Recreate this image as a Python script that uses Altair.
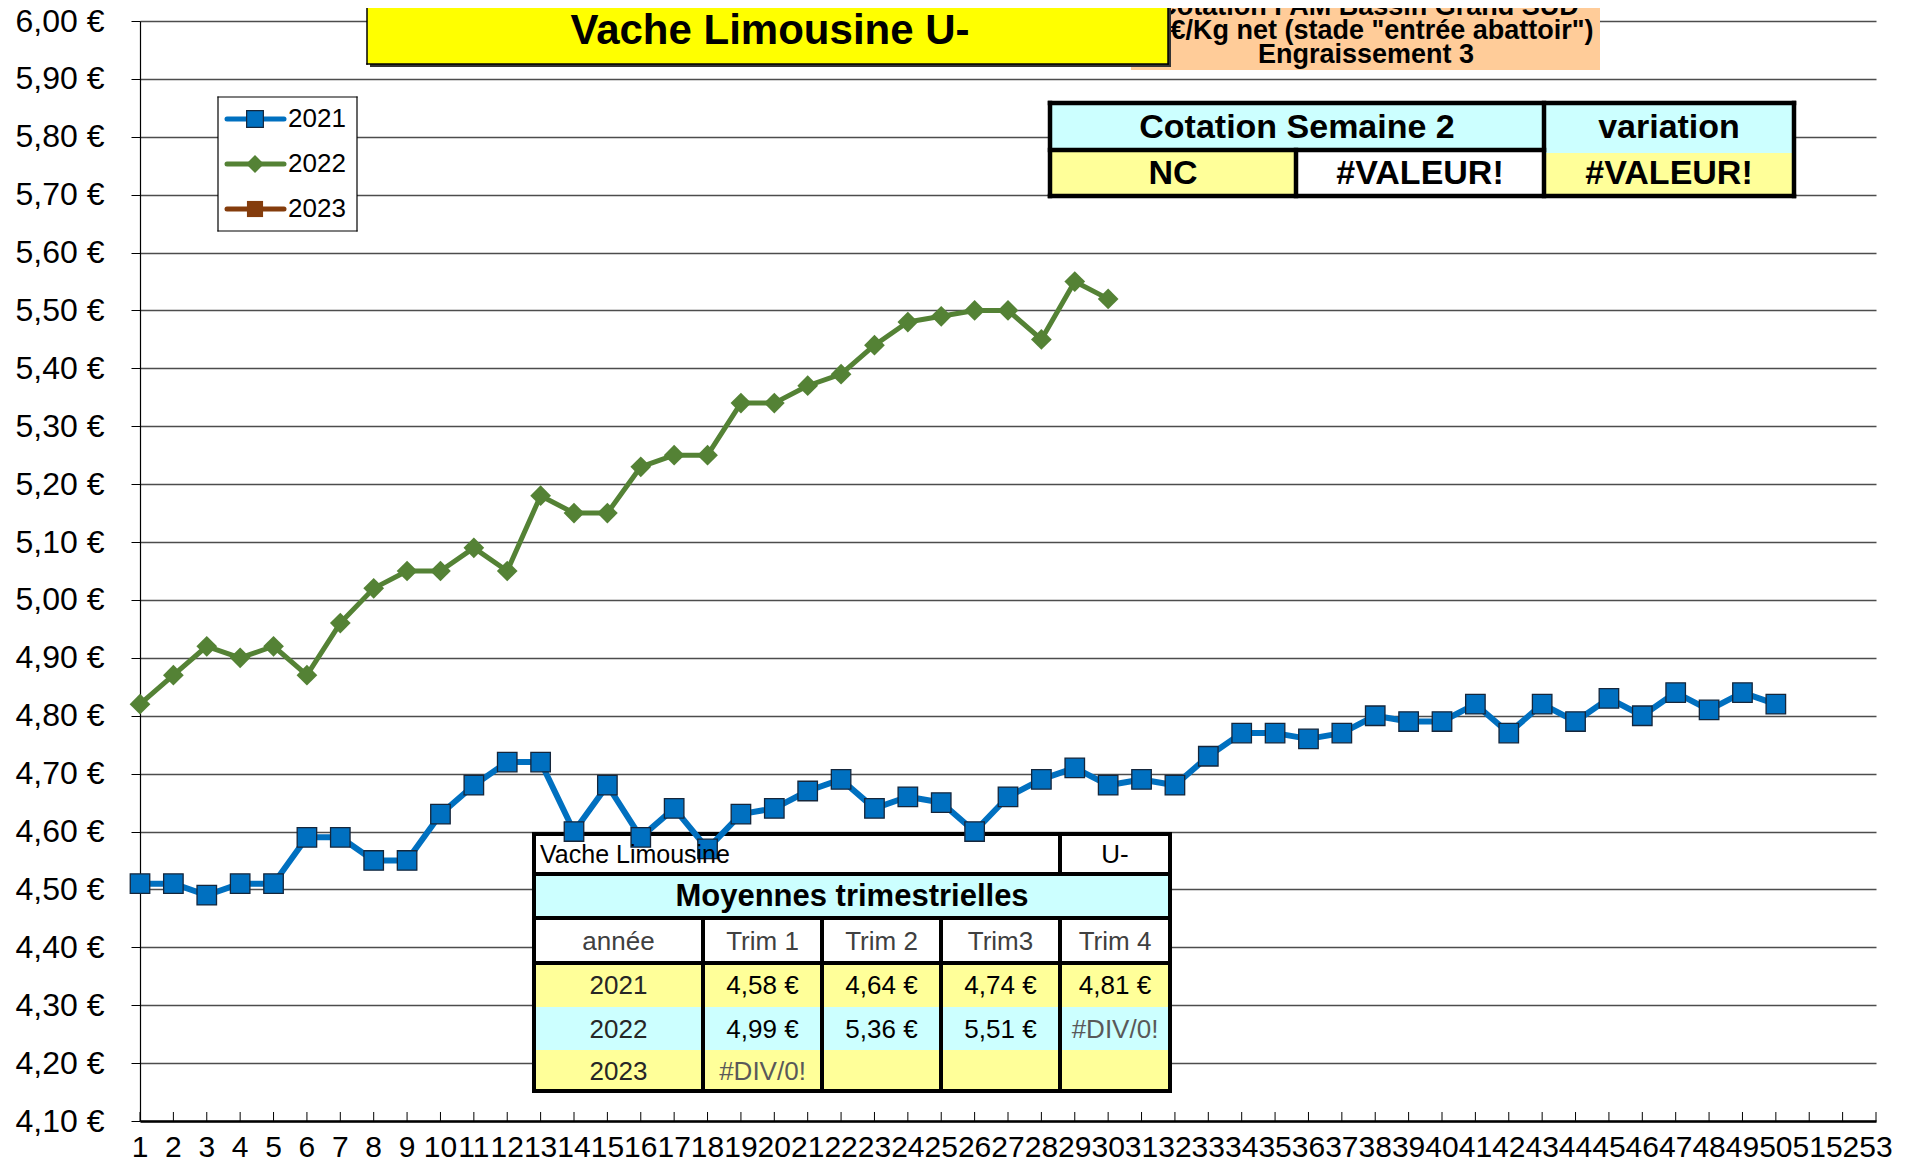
import altair as alt
import pandas as pd

# ---------------- data ----------------
WEEKS = list(range(1, 54))
WEEKS_2021 = list(range(1, 51))
PRICE_2021 = [4.51, 4.51, 4.49, 4.51, 4.51, 4.59, 4.59, 4.55, 4.55, 4.63,
              4.68, 4.72, 4.72, 4.60, 4.68, 4.59, 4.64, 4.57, 4.63, 4.64,
              4.67, 4.69, 4.64, 4.66, 4.65, 4.60, 4.66, 4.69, 4.71, 4.68,
              4.69, 4.68, 4.73, 4.77, 4.77, 4.76, 4.77, 4.80, 4.79, 4.79,
              4.82, 4.77, 4.82, 4.79, 4.83, 4.80, 4.84, 4.81, 4.84, 4.82]
WEEKS_2022 = list(range(1, 31))
PRICE_2022 = [4.82, 4.87, 4.92, 4.90, 4.92, 4.87, 4.96, 5.02, 5.05, 5.05,
              5.09, 5.05, 5.18, 5.15, 5.15, 5.23, 5.25, 5.25, 5.34, 5.34,
              5.37, 5.39, 5.44, 5.48, 5.49, 5.50, 5.50, 5.45, 5.55, 5.52]
YEARS = ["2021", "2022", "2023"]
COLORS = ["#0070C0", "#548235", "#843C0C"]
Y_TICKS = [4.10, 4.20, 4.30, 4.40, 4.50, 4.60, 4.70, 4.80, 4.90, 5.00,
           5.10, 5.20, 5.30, 5.40, 5.50, 5.60, 5.70, 5.80, 5.90, 6.00]

TITLE = "Vache Limousine U-"
SOURCE_LINES = ["Cotation FAM Bassin Grand SUD",
                "€/Kg net (stade \"entrée abattoir\")",
                "Engraissement 3"]
COT_HEADER = ["Cotation Semaine 2", "variation"]
COT_VALUES = ["NC", "#VALEUR!", "#VALEUR!"]
TAB_TITLE = ["Vache Limousine", "U-"]
TAB_HEADER = "Moyennes trimestrielles"
TAB_COLS = ["année", "Trim 1", "Trim 2", "Trim3", "Trim 4"]
TAB_ROWS = [["2021", "4,58 €", "4,64 €", "4,74 €", "4,81 €"],
            ["2022", "4,99 €", "5,36 €", "5,51 €", "#DIV/0!"],
            ["2023", "#DIV/0!", "", "", ""]]

# ---------------- layout ----------------
FONT = "Liberation Sans"
OX, OY = 140, 21          # page position of the plot origin
W, H = 1736, 1100
YELLOW = "#FFFF99"
CYAN = "#CCFFFF"


def px(x):
    return x - OX


def py(y):
    return y - OY


def rects(items):
    df = pd.DataFrame([dict(x=px(a), y=py(b), x2=px(c), y2=py(d), f=f)
                       for a, b, c, d, f in items])
    return alt.Chart(df).mark_rect(strokeWidth=0).encode(
        x=alt.X("x:Q", scale=None, axis=None), x2="x2:Q",
        y=alt.Y("y:Q", scale=None, axis=None), y2="y2:Q",
        fill=alt.Fill("f:N", scale=None, legend=None))


def rules(items, cap="square"):
    df = pd.DataFrame([dict(x=px(a), y=py(b), x2=px(c), y2=py(d), w=w, c=col)
                       for a, b, c, d, w, col in items])
    return alt.Chart(df).mark_rule(strokeCap=cap).encode(
        x=alt.X("x:Q", scale=None, axis=None), x2="x2:Q",
        y=alt.Y("y:Q", scale=None, axis=None), y2="y2:Q",
        strokeWidth=alt.StrokeWidth("w:Q", scale=None, legend=None),
        color=alt.Color("c:N", scale=None, legend=None))


def texts(items, weight="normal", align="center", baseline="middle"):
    df = pd.DataFrame([dict(x=px(a), y=py(b), t=t, s=s, c=c)
                       for a, b, t, s, c in items])
    return alt.Chart(df).mark_text(font=FONT, fontWeight=weight, align=align,
                                   baseline=baseline).encode(
        x=alt.X("x:Q", scale=None, axis=None),
        y=alt.Y("y:Q", scale=None, axis=None),
        text="t:N",
        size=alt.Size("s:Q", scale=None, legend=None),
        color=alt.Color("c:N", scale=None, legend=None))


def outline(x0, y0, x1, y1, w, col="black"):
    return [(x0, y0, x1, y0, w, col), (x0, y1, x1, y1, w, col),
            (x0, y0, x0, y1, w, col), (x1, y0, x1, y1, w, col)]


# cotation table geometry
CX = [1050, 1296, 1544, 1794]
CY = [103, 150, 196]
# bottom table geometry
TX = [534, 703, 822, 941, 1060, 1170]
TY = [834, 874, 918, 963, 1007, 1050, 1091]
# legend geometry
LG = (218, 97, 357, 231)
LG_ROWS = [119, 164, 209]

# ---------------- fills ----------------
fill_items = [
    (LG[0], LG[1], LG[2], LG[3], "white"),
    (CX[0], CY[0], CX[2], CY[1], CYAN),
    (CX[2], CY[0], CX[3], CY[1] + 3, CYAN),
    (CX[2], CY[1] + 3, CX[3], CY[2], YELLOW),
    (CX[0], CY[1], CX[1], CY[2], YELLOW),
    (CX[1], CY[1], CX[2], CY[2], "white"),
    (TX[0], TY[0], TX[5], TY[1], "white"),
    (TX[0], TY[1], TX[5], TY[2], CYAN),
    (TX[0], TY[2], TX[5], TY[3], "white"),
    (TX[0], TY[3], TX[5], TY[4], YELLOW),
    (TX[0], TY[4], TX[5], TY[5], CYAN),
    (TX[0], TY[5], TX[5], TY[6], YELLOW),
    (1131, 0, 1600, 70, "#FFCC99"),
]
fills = rects(fill_items)

SOURCE_X = [1368, 1382, 1366]
source_txt = texts([(SOURCE_X[i], 15 + 24 * i, s, 27, "black")
                    for i, s in enumerate(SOURCE_LINES)],
                   weight="bold", baseline="alphabetic")

title_box = rects([(370, 0, 1171, 67, "#333333"), (367, 0, 1168, 64, "#FFFF00")])
title_line = rules([(367, 64, 1168, 64, 1.5, "black"), (367, 0, 367, 64, 1.5, "black"),
                    (1168, 0, 1168, 64, 1.5, "black")])
title_txt = texts([(770, 31, TITLE, 42, "black")], weight="bold")

# ---------------- borders ----------------
border_items = []
border_items += outline(CX[0], CY[0], CX[3], CY[2], 4.5)
border_items += [(CX[0], CY[1], CX[2], CY[1], 4.5, "black"),
                 (CX[2], CY[0], CX[2], CY[2], 4.5, "black"),
                 (CX[1], CY[1], CX[1], CY[2], 4.5, "black")]
border_items += outline(TX[0], TY[0], TX[5], TY[6], 4)
border_items += [(TX[0], TY[1], TX[5], TY[1], 4, "black"),
                 (TX[0], TY[2], TX[5], TY[2], 4, "black"),
                 (TX[0], TY[3], TX[5], TY[3], 4, "black"),
                 (TX[4], TY[0], TX[4], TY[1], 4, "black")]
for cx in TX[1:5]:
    border_items.append((cx, TY[2], cx, TY[6], 4, "black"))
border_items += outline(LG[0], LG[1], LG[2], LG[3], 1.2)
borders = rules(border_items)

# ---------------- axes + series ----------------
x_enc = alt.X("week:Q", scale=alt.Scale(domain=[1, 53], nice=False, zero=False),
              axis=alt.Axis(values=WEEKS, title=None, grid=False, labels=False,
                            ticks=False, tickSize=0,
                            domainColor="black", domainWidth=2.5))
y_enc = alt.Y("price:Q", scale=alt.Scale(domain=[4.1, 6.0], nice=False, zero=False),
              axis=alt.Axis(values=Y_TICKS,
                            labelExpr="replace(format(datum.value, '.2f'), '.', ',') + ' €'",
                            title=None, grid=True, gridColor="#4d4d4d", gridWidth=1.5,
                            tickColor="black", tickSize=9, tickWidth=1,
                            labelPadding=27, labelFontSize=32, labelColor="black",
                            labelFont=FONT, domainColor="black", domainWidth=1.2,
                            labelOverlap=False))

df21 = pd.DataFrame({"week": WEEKS_2021, "price": PRICE_2021})
df22 = pd.DataFrame({"week": WEEKS_2022, "price": PRICE_2022})

axes_carrier = alt.Chart(df21).mark_line(strokeOpacity=0).encode(x=x_enc, y=y_enc)

line21 = alt.Chart(df21).mark_line(color=COLORS[0], strokeWidth=6,
                                   strokeJoin="round").encode(x="week:Q", y="price:Q")
pts21 = alt.Chart(df21).mark_point(shape="square", filled=True, size=380,
                                   fill=COLORS[0], stroke="#15263b",
                                   strokeWidth=1.3, opacity=1).encode(
    x="week:Q", y="price:Q")
line22 = alt.Chart(df22).mark_line(color=COLORS[1], strokeWidth=5,
                                   strokeJoin="round").encode(x="week:Q", y="price:Q")
pts22 = alt.Chart(df22).mark_point(shape="diamond", filled=True, size=430,
                                   color=COLORS[1], opacity=1).encode(
    x="week:Q", y="price:Q")

df_weeks = pd.DataFrame({"week": WEEKS, "lab": [str(w) for w in WEEKS]})
ticks = alt.Chart(df_weeks).mark_rule(
    color="black", strokeWidth=1).encode(x="week:Q", y=alt.value(H - 9), y2=alt.value(H))
x_labels = alt.Chart(df_weeks).mark_text(
    font=FONT, fontSize=30, baseline="alphabetic", align="center", color="black"
).encode(x="week:Q", y=alt.value(py(1157)), text="lab:N")

# ---------------- legend ----------------
legend_lines = rules([(227, yy, 284, yy, 5, COLORS[i]) for i, yy in enumerate(LG_ROWS)],
                     cap="round")
leg_marks = []
leg_shapes = [("square", 280, "#15263b", 1.2), ("diamond", 320, COLORS[1], 0),
              ("square", 260, COLORS[2], 0)]
for i, (shp, sz, stc, sw) in enumerate(leg_shapes):
    leg_marks.append(
        alt.Chart(pd.DataFrame({"k": [0]})).mark_point(
            shape=shp, filled=True, size=sz, fill=COLORS[i], stroke=stc,
            strokeWidth=sw, opacity=1).encode(x=alt.value(px(255)),
                                               y=alt.value(py(LG_ROWS[i]))))
legend_txt = texts([(288, LG_ROWS[i], YEARS[i], 26, "black") for i in range(3)],
                   align="left")

# ---------------- table texts ----------------
cmid_top = (CY[0] + CY[1]) / 2 + 1
cmid_bot = (CY[1] + CY[2]) / 2 + 1
cot_txt = texts([
    ((CX[0] + CX[2]) / 2, cmid_top, COT_HEADER[0], 34, "black"),
    ((CX[2] + CX[3]) / 2, cmid_top, COT_HEADER[1], 34, "black"),
    ((CX[0] + CX[1]) / 2, cmid_bot, COT_VALUES[0], 34, "black"),
    ((CX[1] + CX[2]) / 2, cmid_bot, COT_VALUES[1], 34, "black"),
    ((CX[2] + CX[3]) / 2, cmid_bot, COT_VALUES[2], 34, "black"),
], weight="bold")

row_mid = [(TY[i] + TY[i + 1]) / 2 + 1 for i in range(6)]
col_mid = [(TX[i] + TX[i + 1]) / 2 for i in range(5)]
tab_items = [((TX[4] + TX[5]) / 2, row_mid[0], TAB_TITLE[1], 26, "black")]
for j, h in enumerate(TAB_COLS):
    tab_items.append((col_mid[j], row_mid[2], h, 26, "#404040"))
for i, row in enumerate(TAB_ROWS):
    for j, v in enumerate(row):
        if not v:
            continue
        col = "#262626" if j == 0 else ("#595959" if v.startswith("#") else "black")
        tab_items.append((col_mid[j], row_mid[3 + i], v, 26, col))
tab_txt = texts(tab_items)
tab_title_txt = texts([(TX[0] + 6, row_mid[0], TAB_TITLE[0], 25, "black")], align="left")
tab_head_txt = texts([((TX[0] + TX[5]) / 2, row_mid[1], TAB_HEADER, 31, "black")],
                     weight="bold")

chart = alt.layer(
    axes_carrier, fills, source_txt, title_box, title_line, title_txt, ticks, x_labels,
    borders, line21, pts21, line22, pts22, legend_lines, *leg_marks, legend_txt,
    cot_txt, tab_txt, tab_title_txt, tab_head_txt
).properties(
    width=W, height=H,
    autosize=alt.AutoSizeParams(type="none"),
    padding={"left": 132, "top": 13, "right": 20, "bottom": 37},
    background="white",
).configure_view(strokeWidth=0)

chart.save("out.html", embed_options={"renderer": "svg", "actions": False})
